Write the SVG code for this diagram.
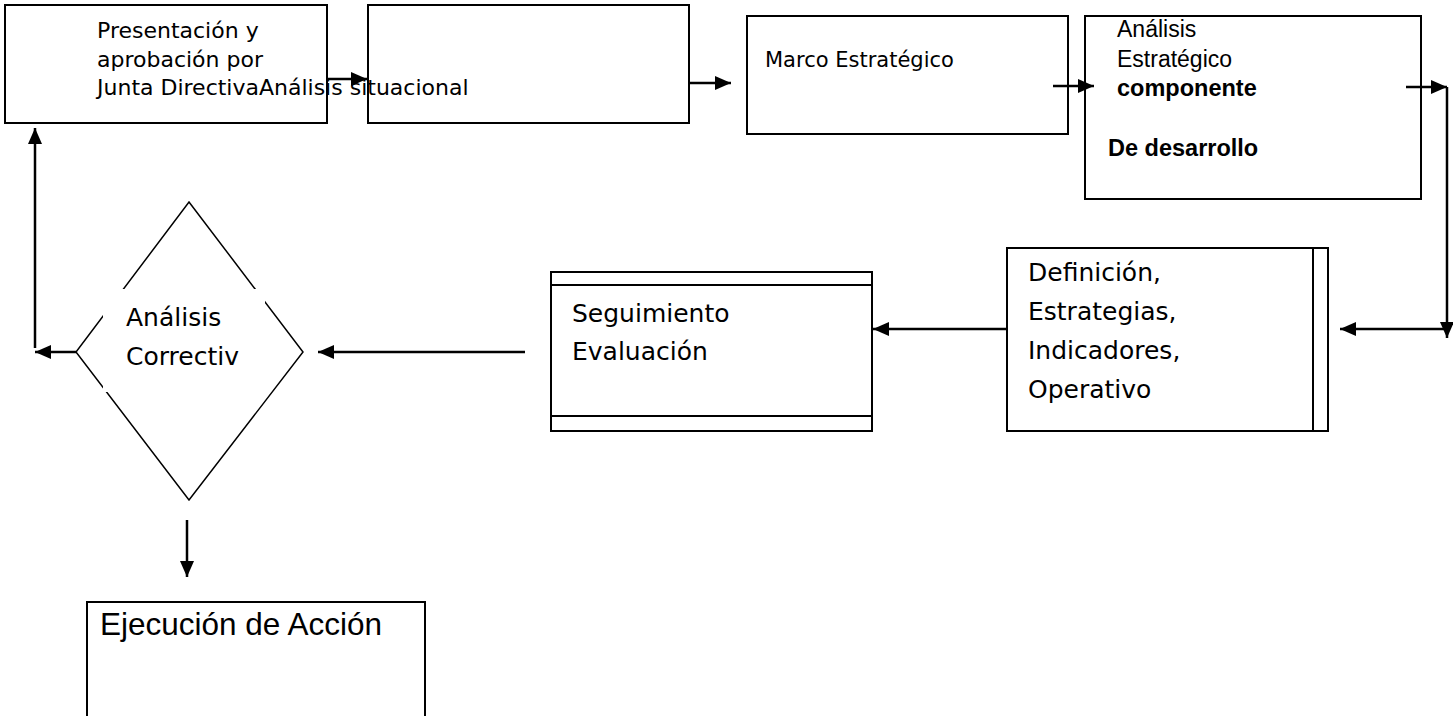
<svg xmlns="http://www.w3.org/2000/svg" width="1453" height="716" viewBox="0 0 1453 716">
<style>
.box{fill:#fff;stroke:#000;stroke-width:2}
.ln{fill:none;stroke:#000;stroke-width:2}
.dia{fill:#fff;stroke:#000;stroke-width:1.5}
.t1{font-family:"DejaVu Sans",sans-serif;font-size:22px;fill:#000}
.t3{font-family:"DejaVu Sans",sans-serif;font-size:21px;fill:#000}
.t4{font-family:"Liberation Sans",Arial,sans-serif;font-size:23px;fill:#000}
.t4b{font-family:"Liberation Sans",Arial,sans-serif;font-size:23.5px;font-weight:bold;fill:#000}
.tg{font-family:"DejaVu Sans",sans-serif;font-size:25px;fill:#000}
.te{font-family:"Liberation Sans",Arial,sans-serif;font-size:31.5px;fill:#000}
.con{fill:none;stroke:#000;stroke-width:2.5}
</style>
<defs>
<marker id="ah" markerUnits="userSpaceOnUse" markerWidth="17" markerHeight="14" refX="16" refY="7" orient="auto">
<path d="M0,0 L16,7 L0,14 z" fill="#000"/>
</marker>
</defs>
<rect width="1453" height="716" fill="#fff"/>

<g id="n-presentacion">
<rect class="box" x="5" y="5" width="322" height="118"/>
</g>
<g id="n-situacional">
<rect class="box" x="368" y="5" width="321" height="118"/>
</g>
<g id="n-presentacion-text">
<text class="t1" x="97" y="38">Presentación y</text>
<text class="t1" x="97" y="67">aprobación por</text>
<text class="t1" x="97" y="95">Junta DirectivaAnálisis situacional</text>
</g>
<g id="n-marco">
<rect class="box" x="747" y="16" width="321" height="118"/>
<text class="t3" x="765" y="67">Marco Estratégico</text>
</g>
<g id="n-analisis">
<rect class="box" x="1085" y="16" width="336" height="183"/>
<text class="t4" x="1117" y="37">Análisis</text>
<text class="t4" x="1117" y="67">Estratégico</text>
<text class="t4b" x="1117" y="96">componente</text>
<text class="t4b" x="1108" y="156">De desarrollo</text>
</g>
<g id="n-definicion">
<rect class="box" x="1007" y="248" width="321" height="183"/>
<line class="ln" x1="1313" y1="248" x2="1313" y2="431"/>
<text class="tg" x="1028" y="281">Definición,</text>
<text class="tg" x="1028" y="320">Estrategias,</text>
<text class="tg" x="1028" y="359">Indicadores,</text>
<text class="tg" x="1028" y="398">Operativo</text>
</g>
<g id="n-seguimiento">
<rect class="box" x="551" y="272" width="321" height="159"/>
<line class="ln" x1="551" y1="285" x2="872" y2="285"/>
<line class="ln" x1="551" y1="416" x2="872" y2="416"/>
<text class="tg" x="572" y="322">Seguimiento</text>
<text class="tg" x="572" y="360">Evaluación</text>
</g>
<g id="n-correctivo">
<polygon class="dia" points="189,202 303,352 189,500 76,352"/>
<rect x="103" y="289" width="162" height="103" fill="#fff"/>
<text class="tg" x="126" y="326">Análisis</text>
<text class="tg" x="126" y="365">Correctiv</text>
</g>
<g id="n-ejecucion">
<rect class="box" x="87" y="602" width="338" height="130"/>
<text class="te" x="100" y="635">Ejecución de Acción</text>
</g>

<g id="connectors">
<line class="con" x1="327" y1="79" x2="367" y2="79" marker-end="url(#ah)"/>
<line class="con" x1="690" y1="83" x2="731" y2="83" marker-end="url(#ah)"/>
<line class="con" x1="1053" y1="86" x2="1094" y2="86" marker-end="url(#ah)"/>
<line class="con" x1="1406" y1="87" x2="1447" y2="87" marker-end="url(#ah)"/>
<line class="con" x1="1447" y1="87" x2="1447" y2="338" marker-end="url(#ah)"/>
<line class="con" x1="1447" y1="329" x2="1340" y2="329" marker-end="url(#ah)"/>
<line class="con" x1="1007" y1="329" x2="873" y2="329" marker-end="url(#ah)"/>
<line class="con" x1="525" y1="352" x2="318" y2="352" marker-end="url(#ah)"/>
<line class="con" x1="76" y1="352" x2="35" y2="352" marker-end="url(#ah)"/>
<line class="con" x1="35" y1="348" x2="35" y2="128" marker-end="url(#ah)"/>
<line class="con" x1="187" y1="520" x2="187" y2="577" marker-end="url(#ah)"/>
</g>
</svg>
